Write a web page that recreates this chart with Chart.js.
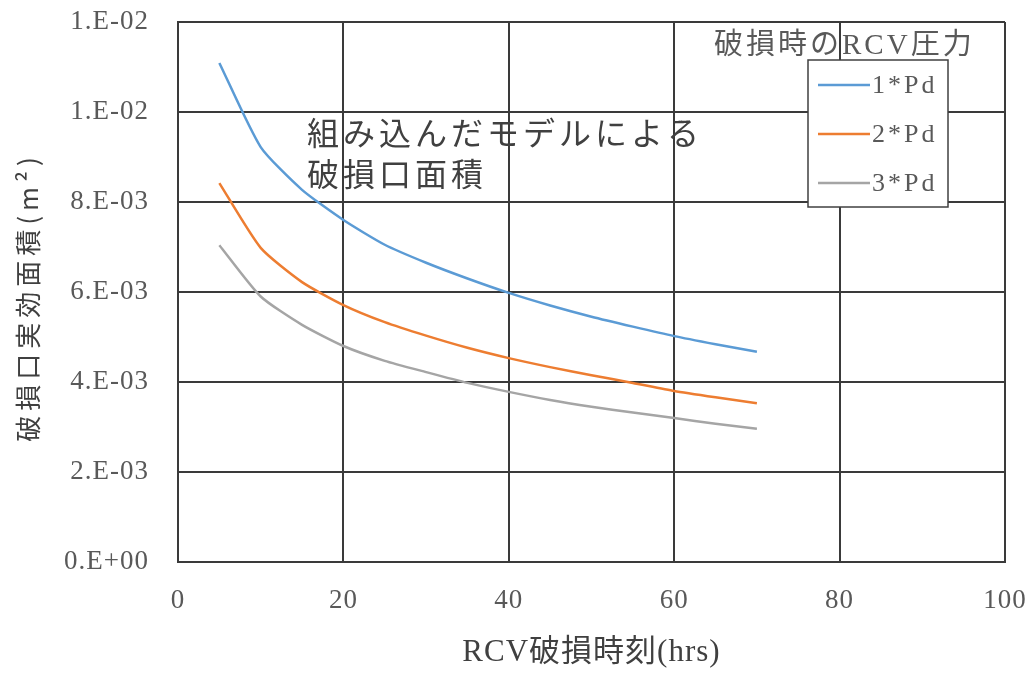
<!DOCTYPE html>
<html lang="ja">
<head>
<meta charset="UTF-8">
<title>破損口実効面積</title>
<script src="https://cdn.jsdelivr.net/npm/chart.js"></script>
<style>
  body { margin: 0; background: #fff; }
  #wrap { width: 1036px; height: 675px; }
</style>
</head>
<body>
<div id="wrap"><canvas id="chart"></canvas></div>
<script>
// data (m2)
const hours = [5, 10, 15, 20, 25, 30, 35, 40, 45, 50, 55, 60, 65, 70];
const pd1 = [0.01109, 0.00922, 0.00827, 0.00760, 0.00705, 0.00665, 0.00630, 0.00598, 0.00570, 0.00545, 0.00523, 0.00502, 0.00484, 0.00467];
const pd2 = [0.00842, 0.00698, 0.00622, 0.00571, 0.00533, 0.00503, 0.00476, 0.00453, 0.00433, 0.00415, 0.00398, 0.00380, 0.00366, 0.00353];
const pd3 = [0.00704, 0.00590, 0.00527, 0.00480, 0.00447, 0.00422, 0.00398, 0.00378, 0.00360, 0.00345, 0.00332, 0.00320, 0.00307, 0.00296];
const seriesNames = ['1*Pd', '2*Pd', '3*Pd'];
const xTickValues = [0, 20, 40, 60, 80, 100];
const yTickValues = [0, 0.002, 0.004, 0.006, 0.008, 0.010, 0.012];
const yTickLabels = ['0.E+00', '2.E-03', '4.E-03', '6.E-03', '8.E-03', '1.E-02', '1.E-02'];
const xTitle = 'RCV破損時刻(hrs)';
const yTitle = '破損口実効面積(m²)';
const legendTitle = '破損時のRCV圧力';
const noteLines = ['組み込んだモデルによる', '破損口面積'];

const serif = '"Liberation Serif", "Noto Sans CJK JP", serif';
const cjk = '"Noto Sans CJK JP", sans-serif';
const gridCol = '#3a3a3a';
const textCol = '#595959';

// slightly wider lettering everywhere, like the source picture
const spacing = {
  id: 'spacing',
  beforeDraw(chart) { chart.ctx.letterSpacing = '1px'; }
};

// y title, legend box and note text on top of the plot
const overlay = {
  id: 'overlay',
  afterDraw(chart) {
    const ctx = chart.ctx;
    const area = chart.chartArea;
    ctx.save();
    ctx.textBaseline = 'middle';

    // y title
    ctx.save();
    ctx.translate(28, (area.top + area.bottom) / 2 + 5);
    ctx.rotate(-Math.PI / 2);
    ctx.textAlign = 'center';
    ctx.fillStyle = '#404040';
    ctx.font = '26px ' + cjk;
    ctx.letterSpacing = '5px';
    ctx.fillText(yTitle, 0, 0);
    ctx.restore();

    // note
    ctx.textAlign = 'left';
    ctx.fillStyle = '#404040';
    ctx.font = '32px ' + cjk;
    ctx.letterSpacing = '4px';
    ctx.fillText(noteLines[0], 307, 133);
    ctx.fillText(noteLines[1], 307, 174);

    // legend title
    ctx.font = '29px ' + serif;
    ctx.letterSpacing = '3px';
    ctx.fillStyle = textCol;
    ctx.fillText(legendTitle, 714, 46);

    // legend box
    ctx.fillStyle = '#fff';
    ctx.fillRect(808, 60, 140, 147);
    ctx.strokeStyle = '#404040';
    ctx.lineWidth = 1.5;
    ctx.strokeRect(808, 60, 140, 147);

    chart.data.datasets.forEach((ds, i) => {
      const y = 85 + i * 49;
      ctx.strokeStyle = ds.borderColor;
      ctx.lineWidth = 2.5;
      ctx.beginPath();
      ctx.moveTo(818, y);
      ctx.lineTo(870, y);
      ctx.stroke();
      ctx.fillStyle = textCol;
      ctx.font = '26px ' + serif;
      ctx.fillText(ds.label, 872, y + 1);
    });
    ctx.restore();
  }
};

const hidden = 'rgba(0,0,0,0)';

new Chart(document.getElementById('chart'), {
  type: 'line',
  data: {
    datasets: [
      { label: seriesNames[0], data: pd1, borderColor: '#5B9BD5' },
      { label: seriesNames[1], data: pd2, borderColor: '#ED7D31' },
      { label: seriesNames[2], data: pd3, borderColor: '#A5A5A5' }
    ].map(d => ({ ...d, data: d.data.map((v, i) => ({ x: hours[i], y: v })), borderWidth: 2.5, pointRadius: 0, tension: 0.2, fill: false }))
  },
  options: {
    responsive: true,
    maintainAspectRatio: false,
    animation: false,
    layout: { padding: { top: 22, right: 31, bottom: 0, left: 0 } },
    plugins: { legend: { display: false }, tooltip: { enabled: false } },
    scales: {
      x: {
        type: 'linear',
        min: 0, max: 100,
        afterBuildTicks: s => { s.ticks = xTickValues.map(v => ({ value: v })); },
        afterFit: s => { s.height = 113; },
        grid: { color: gridCol, lineWidth: 2, tickLength: 23, tickColor: hidden },
        border: { color: gridCol, width: 2 },
        ticks: { color: textCol, font: { family: serif, size: 27 }, padding: 0, maxRotation: 0 },
        title: { display: true, text: xTitle, color: '#404040', font: { family: serif, size: 31 }, padding: { top: 0, bottom: 4 } }
      },
      y: {
        min: 0, max: 0.012,
        afterBuildTicks: s => { s.ticks = yTickValues.map(v => ({ value: v })); },
        afterFit: s => { s.width = 178; },
        grid: { color: gridCol, lineWidth: 2, tickLength: 29, tickColor: hidden },
        border: { color: gridCol, width: 2 },
        ticks: {
          color: textCol, font: { family: serif, size: 27 }, padding: 0,
          callback: (v, i) => yTickLabels[i]
        }
      }
    }
  },
  plugins: [spacing, overlay]
});
</script>
</body>
</html>
